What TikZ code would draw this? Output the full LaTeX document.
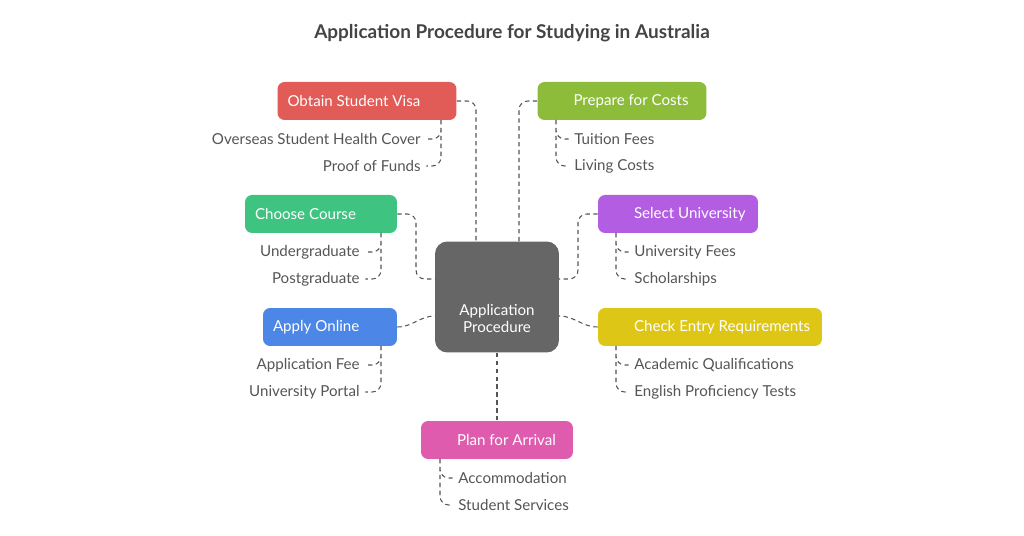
\documentclass[tikz,border=0pt]{standalone}
\usepackage{fontspec}
\setmainfont{Lato}
\definecolor{visared}{HTML}{E15B57}
\definecolor{costgreen}{HTML}{8DBB3A}
\definecolor{coursegreen}{HTML}{3EC480}
\definecolor{unipurple}{HTML}{B35DE3}
\definecolor{applyblue}{HTML}{4C87E8}
\definecolor{entryyellow}{HTML}{DEC616}
\definecolor{planpink}{HTML}{DE5BAE}
\definecolor{coregray}{HTML}{666666}
\definecolor{txtgray}{HTML}{555555}
\tikzset{
  stage/.style={rounded corners=4pt, text=white, font=\fontsize{8.6}{10}\selectfont, minimum height=0.76cm, inner xsep=0.2cm, inner ysep=0pt, align=flush left},
  item/.style={text=txtgray, font=\fontsize{8.6}{10}\selectfont, inner sep=0pt},
  link/.style={dashed, dash pattern=on 2.5pt off 2pt, txtgray, line width=0.6pt, rounded corners=5pt},
}
\begin{document}
\begin{tikzpicture}[x=0.02cm, y=-0.02cm]
  \useasboundingbox (0,0) rectangle (1024,536);
  \node[font=\bfseries\fontsize{10.8}{12}\selectfont, text=txtgray!80!black] (title) at (512,33) {Application Procedure for Studying in Australia};

  % central box
  \node[stage, fill=coregray, minimum width=2.48cm, minimum height=2.22cm, rounded corners=7pt, align=center, inner sep=0pt] (core) at (497,297) {\\[2.4em]Application\\Procedure};
  \coordinate (ctop1) at (476,242);
  \coordinate (ctop2) at (519,242);
  \coordinate (cleft1) at (435,279);
  \coordinate (cleft2) at (435,316);
  \coordinate (cright1) at (559,279);
  \coordinate (cright2) at (559,316);

  % stages
  \node[stage, fill=visared, text width=3.18cm] (visa) at (367,101) {\mbox{Obtain Student Visa}};
  \node[stage, fill=costgreen, text width=2.98cm] (costs) at (622,101) {\mbox{\hspace{0.52cm}Prepare for Costs}};
  \node[stage, fill=coursegreen, text width=2.64cm] (course) at (321,214) {\mbox{Choose Course}};
  \node[stage, fill=unipurple, text width=2.8cm] (univ) at (678,214) {\mbox{\hspace{0.52cm}Select University}};
  \node[stage, fill=applyblue, text width=2.28cm] (apply) at (330,327) {\mbox{Apply Online}};
  \node[stage, fill=entryyellow, text width=4.08cm] (entry) at (710,327) {\mbox{\hspace{0.52cm}Check Entry Requirements}};
  \node[stage, fill=planpink, text width=2.64cm] (arrival) at (497,440) {\mbox{\hspace{0.52cm}Plan for Arrival}};

  % stage connectors
  \draw[link] (visa.east) -| (ctop1);
  \draw[link] (costs.west) -| (ctop2);
  \draw[link] (course.east) -- (416,214) |- (cleft1);
  \draw[link] (univ.west) -- (578,214) |- (cright1);
  \draw[link] (apply.east) to[out=0, in=180] (cleft2);
  \draw[link] (entry.west) to[out=180, in=0] (cright2);
  \draw[link] (core.south) -- (arrival.north);

  % left items
  \node[item, anchor=east] (v1) at (421,139) {Overseas Student Health Cover};
  \node[item, anchor=east] (v2) at (421,166) {Proof of Funds};
  \node[item, anchor=east] (c1) at (360,252) {Undergraduate};
  \node[item, anchor=east] (c2) at (360,279) {Postgraduate};
  \node[item, anchor=east] (a1) at (360,365) {Application Fee};
  \node[item, anchor=east] (a2) at (360,392) {University Portal};
  \draw[link] (441,120) |- ([xshift=3pt]v1.east) (441,120) |- ([xshift=3pt]v2.east);
  \draw[link] (381,233) |- ([xshift=3pt]c1.east) (381,233) |- ([xshift=3pt]c2.east);
  \draw[link] (381,346) |- ([xshift=3pt]a1.east) (381,346) |- ([xshift=3pt]a2.east);

  % right items
  \node[item, anchor=west] (p1) at (574,139) {Tuition Fees};
  \node[item, anchor=west] (p2) at (574,166) {Living Costs};
  \node[item, anchor=west] (u1) at (634,252) {University Fees};
  \node[item, anchor=west] (u2) at (634,279) {Scholarships};
  \node[item, anchor=west] (e1) at (634,365) {Academic Qualifications};
  \node[item, anchor=west] (e2) at (634,392) {English Proficiency Tests};
  \node[item, anchor=west] (r1) at (458,478) {Accommodation};
  \node[item, anchor=west] (r2) at (458,505) {Student Services};
  \draw[link] (556,120) |- ([xshift=-3pt]p1.west) (556,120) |- ([xshift=-3pt]p2.west);
  \draw[link] (616,233) |- ([xshift=-3pt]u1.west) (616,233) |- ([xshift=-3pt]u2.west);
  \draw[link] (616,346) |- ([xshift=-3pt]e1.west) (616,346) |- ([xshift=-3pt]e2.west);
  \draw[link] (440,459) |- ([xshift=-3pt]r1.west) (440,459) |- ([xshift=-3pt]r2.west);
\end{tikzpicture}
\end{document}
